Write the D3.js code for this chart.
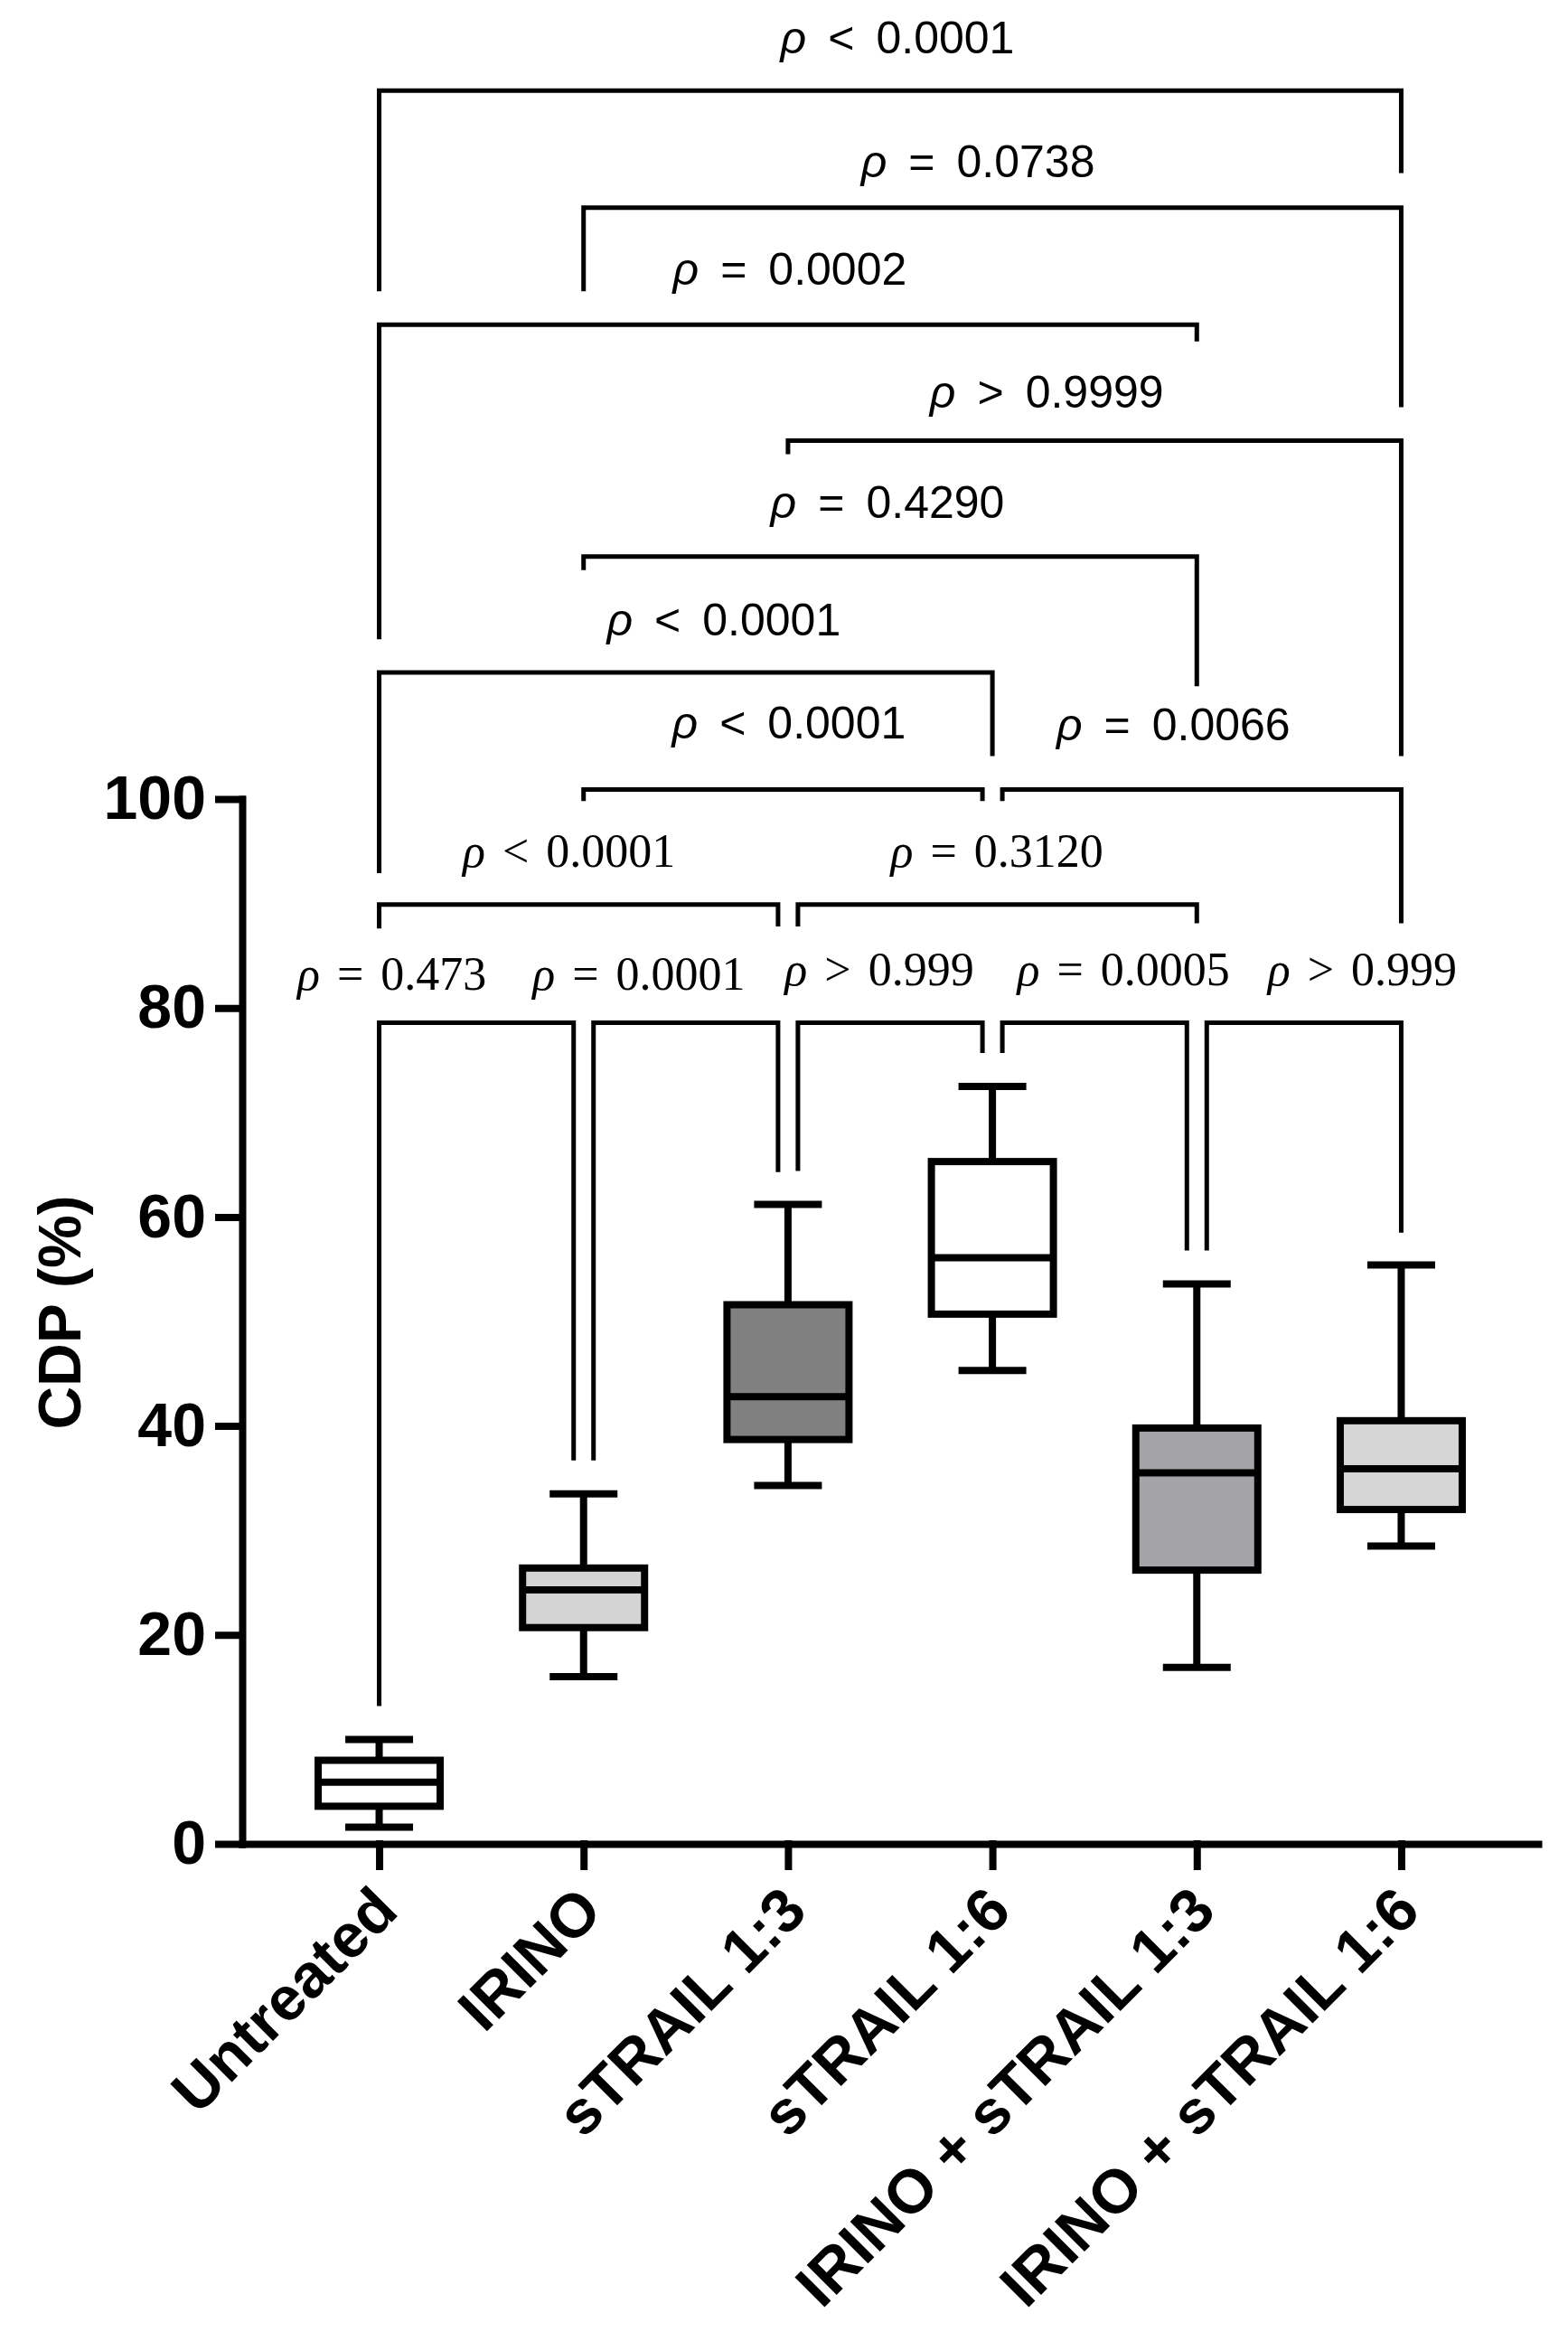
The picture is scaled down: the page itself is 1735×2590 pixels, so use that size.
<!DOCTYPE html>
<html>
<head>
<meta charset="utf-8">
<script src="https://cdn.jsdelivr.net/npm/d3@7.9.0/dist/d3.min.js"></script>
<style>
  html, body { margin: 0; padding: 0; background: #fff; }
  svg { display: block; }
  .axis .domain, .axis line { stroke: #000; stroke-width: 8; stroke-linecap: square; }
  .axis text { font-family: "Liberation Sans", Arial, sans-serif; font-weight: bold; fill: #000; }
</style>
</head>
<body>
<div id="chart"></div>
<script>
// ---- data ----
const groups      = ['Untreated', 'IRINO', 'sTRAIL 1:3', 'sTRAIL 1:6', 'IRINO + sTRAIL 1:3', 'IRINO + sTRAIL 1:6'];
const whiskerLow  = [1.6, 16.0, 34.3, 45.3, 16.9, 28.5];
const q1          = [3.6, 20.7, 38.7, 50.7, 26.2, 32.0];
const median      = [5.9, 24.3, 42.8, 56.1, 35.5, 35.9];
const q3          = [8.0, 26.4, 51.6, 65.3, 39.8, 40.5];
const whiskerHigh = [10.0, 33.5, 61.2, 72.5, 53.6, 55.4];
const yTicks      = [0, 20, 40, 60, 80, 100];

// pairwise comparisons: group indices, p text, bracket heights in CDP units
const cmpFrom     = [0, 1, 0, 2, 1, 0, 1, 3, 0, 2, 0, 1, 2, 3, 4];
const cmpTo       = [5, 5, 4, 5, 4, 3, 3, 5, 2, 4, 1, 2, 3, 4, 5];
const cmpOp       = ['<', '=', '=', '>', '=', '<', '<', '=', '<', '=', '=', '=', '>', '=', '>'];
const cmpValue    = ['0.0001', '0.0738', '0.0002', '0.9999', '0.4290', '0.0001', '0.0001', '0.0066',
                     '0.0001', '0.3120', '0.473', '0.0001', '0.999', '0.0005', '0.999'];
const cmpBar      = [167.8, 156.6, 145.4, 134.3, 123.2, 112.1, 100.9, 100.9, 89.9, 89.9, 78.6, 78.6, 78.6, 78.6, 78.6];
const cmpLeftEnd  = [148.6, 148.6, 115.3, 133.0, 121.9, 92.9, 99.8, 99.8, 87.6, 87.8, 13.2, 36.7, 64.4, 75.7, 56.8];
const cmpRightEnd = [159.9, 137.5, 143.8, 104.1, 110.8, 104.1, 99.8, 88.1, 87.8, 88.1, 36.7, 64.3, 75.7, 56.8, 58.5];
const cmpLabelY   = [172.8, 161.0, 150.7, 138.9, 128.4, 117.1, 107.3, 107.1, 95.0, 95.0, 83.3, 83.3, 83.7, 83.7, 83.7];

// ---- styles ----
const boxFill    = ['#ffffff', '#d4d4d4', '#808080', '#ffffff', '#a4a4a8', '#d6d6d6'];
const labelNudge = [8, -16, 2, -53, -3, 42, 1, -26, -16, 5, -99, -52, -12, 32, 70];
const upperTier  = 8;   // first 8 labels use the sans face, the rest the serif face

const W = 1735, H = 2590;
const svg = d3.select('#chart').append('svg')
  .attr('width', W).attr('height', H)
  .attr('viewBox', `0 0 ${W} ${H}`);

const y = d3.scaleLinear().domain([0, 100]).range([2040, 884]);
const x = d3.scalePoint().domain(groups).range([268, 1702]).padding(0.67);

// ---- axes ----
const yAxis = svg.append('g').attr('class', 'axis')
  .attr('transform', 'translate(268,0)')
  .call(d3.axisLeft(y).tickValues(yTicks).tickSize(26).tickSizeOuter(0).tickPadding(14));
yAxis.selectAll('text').attr('font-size', 68);

const xAxis = svg.append('g').attr('class', 'axis')
  .attr('transform', `translate(0,${y(0)})`)
  .call(d3.axisBottom(x).tickSize(25).tickSizeOuter(0));
xAxis.selectAll('text')
  .attr('font-size', 68)
  .attr('x', 0).attr('y', 0).attr('dy', 0)
  .attr('text-anchor', 'end')
  .attr('transform', 'translate(23,77) rotate(-45)');

svg.append('text')
  .attr('transform', 'translate(89,1452) rotate(-90)')
  .attr('text-anchor', 'middle')
  .attr('font-family', '"Liberation Sans", Arial, sans-serif')
  .attr('font-weight', 'bold')
  .attr('font-size', 66)
  .text('CDP (%)');

// ---- box plots ----
const boxW = 135, capW = 75;
const boxes = svg.append('g').attr('stroke', '#000').attr('stroke-width', 8);
groups.forEach((gName, i) => {
  const cx = x(gName);
  const b = boxes.append('g');
  b.append('line').attr('x1', cx).attr('x2', cx).attr('y1', y(whiskerLow[i])).attr('y2', y(whiskerHigh[i]));
  b.append('line').attr('x1', cx - capW / 2).attr('x2', cx + capW / 2).attr('y1', y(whiskerHigh[i])).attr('y2', y(whiskerHigh[i]));
  b.append('line').attr('x1', cx - capW / 2).attr('x2', cx + capW / 2).attr('y1', y(whiskerLow[i])).attr('y2', y(whiskerLow[i]));
  b.append('rect')
    .attr('x', cx - boxW / 2).attr('width', boxW)
    .attr('y', y(q3[i])).attr('height', y(q1[i]) - y(q3[i]))
    .attr('fill', boxFill[i]);
  b.append('line').attr('x1', cx - boxW / 2).attr('x2', cx + boxW / 2).attr('y1', y(median[i])).attr('y2', y(median[i]));
});

// ---- significance brackets ----
const nudge = 11;
const shares = (k, cat) => cmpBar.some((h, j) => j !== k && h === cmpBar[k] && (cmpFrom[j] === cat || cmpTo[j] === cat));

const brackets = svg.append('g').attr('fill', 'none').attr('stroke', '#000').attr('stroke-width', 5);
const labels = svg.append('g').attr('fill', '#000');

cmpFrom.forEach((f, k) => {
  const t = cmpTo[k];
  const xl = x(groups[f]) + (shares(k, f) ? nudge : 0);
  const xr = x(groups[t]) - (shares(k, t) ? nudge : 0);
  const p = d3.path();
  p.moveTo(xl, y(cmpLeftEnd[k]));
  p.lineTo(xl, y(cmpBar[k]));
  p.lineTo(xr, y(cmpBar[k]));
  p.lineTo(xr, y(cmpRightEnd[k]));
  brackets.append('path').attr('d', p.toString());

  const sans = k < upperTier;
  const cx = (x(groups[f]) + x(groups[t])) / 2 + labelNudge[k];
  const gap = sans ? 24 : 19;
  const txt = labels.append('text')
    .attr('x', cx).attr('y', y(cmpLabelY[k])).attr('dy', '0.34em')
    .attr('text-anchor', 'middle')
    .attr('font-family', sans ? '"Liberation Sans", Arial, sans-serif' : '"Liberation Serif", "Times New Roman", serif')
    .attr('font-size', sans ? 50 : 52);
  txt.append('tspan').attr('font-style', 'italic').text('ρ');
  txt.append('tspan').attr('dx', gap).text(cmpOp[k]);
  txt.append('tspan').attr('dx', gap).text(cmpValue[k]);
});
</script>
</body>
</html>
